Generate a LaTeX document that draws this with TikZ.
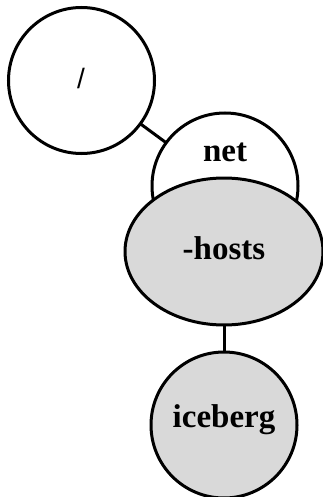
\documentclass[tikz,border=0pt]{standalone}
\usepackage{fontspec}
\setmainfont{Liberation Serif}
\newfontfamily\slashfont{Liberation Sans}
\usetikzlibrary{shapes.geometric}
\definecolor{nodegray}{RGB}{217,217,217}
\begin{document}
\begin{tikzpicture}[x=1pt,y=-1pt,
  shp/.style={draw=black,line width=3pt,inner sep=0pt,outer sep=0pt},
  circ/.style={shp,circle,minimum size=146pt},
  ell/.style={shp,ellipse,minimum width=198pt,minimum height=147pt},
  lbl/.style={inner sep=0pt,font=\fontsize{33}{33}\selectfont\bfseries},
  conn/.style={line width=3pt}]
\useasboundingbox (0,0) rectangle (323,497);
\node[circ,fill=white] (root) at (81.5,80.5) {};
\node[circ,fill=white] (net) at (225,186) {};
\node[ell,fill=nodegray] (hosts) at (224,251.5) {};
\node[circ,fill=nodegray] (ice) at (224,425) {};
\draw[conn] (root) -- (net);
\draw[conn] (hosts.south) -- (ice.north);
\node[inner sep=0pt,font=\slashfont\fontsize{28}{28}\selectfont] (troot) at (81,78) {/};
\node[lbl] (tnet) at (225,152) {net};
\node[lbl] (thosts) at (224,248) {-hosts};
\node[lbl] (tice) at (224,420) {iceberg};
\end{tikzpicture}
\end{document}
